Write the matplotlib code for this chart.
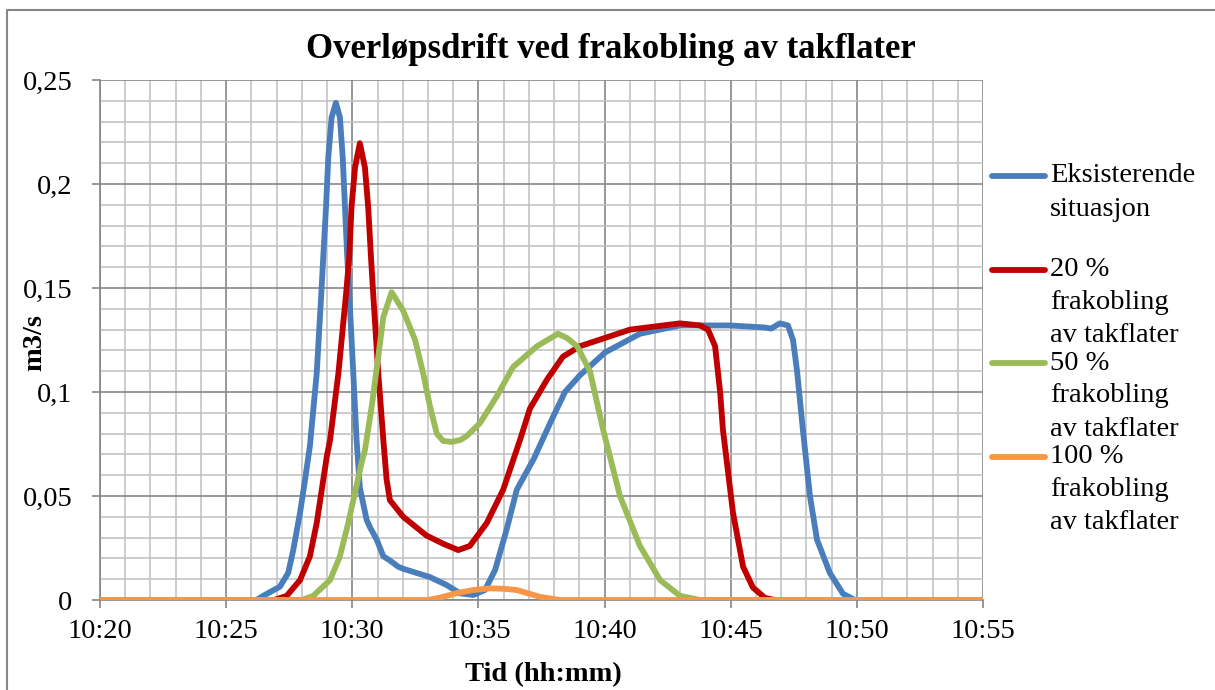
import matplotlib
matplotlib.use("Agg")
import matplotlib.pyplot as plt
from matplotlib.lines import Line2D
from matplotlib.ticker import MultipleLocator, FuncFormatter

plt.rcParams['font.family'] = ['Liberation Serif', 'DejaVu Serif']

# minutes after 10:00, flow in m3/s
blue_t = [20.0, 26.2, 26.47, 27.13, 27.46, 27.66, 27.93, 28.13, 28.32, 28.59, 28.77,
          28.85, 28.96, 29.05, 29.18, 29.35, 29.51, 29.62, 29.71, 29.80, 29.88, 30.04,
          30.17, 30.30, 30.57, 30.70, 30.97, 31.23, 31.49, 31.82, 32.02, 33.08, 33.74,
          34.27, 34.80, 35.26, 35.66, 36.12, 36.52, 37.2, 37.84, 38.43, 39.02, 40.02,
          41.4, 42.99, 44.97, 46.36, 46.6, 46.95, 47.27, 47.47, 47.63, 47.86, 48.14,
          48.42, 48.93, 49.45, 49.92, 55.0]
blue_q = [0, 0, 0.002, 0.0064, 0.013, 0.024, 0.042, 0.058, 0.074, 0.109, 0.147,
          0.165, 0.189, 0.213, 0.232, 0.239, 0.232, 0.213, 0.189, 0.165, 0.147, 0.109,
          0.077, 0.054, 0.0385, 0.035, 0.029, 0.021, 0.019, 0.016, 0.015, 0.011, 0.0072,
          0.0032, 0.0024, 0.0048, 0.0144, 0.034, 0.053, 0.068, 0.085, 0.1, 0.108, 0.119,
          0.128, 0.132, 0.132, 0.131, 0.1305, 0.133, 0.132, 0.125, 0.11, 0.082, 0.05,
          0.029, 0.013, 0.003, 0, 0]

red_t = [20.0, 26.9, 27.40, 27.93, 28.32, 28.59, 28.79, 28.99, 29.12, 29.45, 29.76,
         29.88, 29.97, 30.11, 30.30, 30.50, 30.63, 30.74, 30.83, 31.03, 31.23, 31.36,
         31.49, 32.02, 32.94, 33.61, 34.20, 34.66, 35.33, 35.98, 36.65, 37.04, 37.72,
         38.35, 39.02, 40.02, 41.01, 42.99, 43.78, 44.1, 44.38, 44.58, 44.69, 45.09,
         45.49, 45.88, 46.36, 46.75, 55.0]
red_q = [0, 0, 0.002, 0.0096, 0.021, 0.037, 0.053, 0.069, 0.077, 0.109, 0.148,
         0.165, 0.189, 0.208, 0.2196, 0.208, 0.189, 0.165, 0.147, 0.109, 0.077, 0.058,
         0.048, 0.040, 0.031, 0.027, 0.024, 0.026, 0.037, 0.053, 0.077, 0.092, 0.106,
         0.117, 0.122, 0.126, 0.13, 0.133, 0.132, 0.13, 0.122, 0.1, 0.082, 0.042,
         0.016, 0.006, 0.001, 0, 0]

green_t = [20.0, 28.0, 28.45, 29.12, 29.51, 29.84, 30.15, 30.37, 30.50, 30.77, 31.03,
           31.23, 31.56, 32.02, 32.49, 32.81, 33.08, 33.35, 33.6, 33.94, 34.3, 34.55,
           35.06, 35.73, 36.37, 37.32, 38.15, 38.51, 38.91, 39.42, 39.94, 40.61, 41.4,
           42.2, 42.99, 43.78, 55.0]
green_q = [0, 0, 0.002, 0.0096, 0.021, 0.037, 0.054, 0.066, 0.072, 0.093, 0.117,
           0.136, 0.148, 0.139, 0.125, 0.109, 0.093, 0.080, 0.0765, 0.076, 0.077, 0.079,
           0.085, 0.098, 0.112, 0.122, 0.128, 0.126, 0.122, 0.11, 0.082, 0.05, 0.026,
           0.0096, 0.002, 0, 0]

orange_t = [20.0, 33.0, 33.5, 34.14, 34.8, 35.46, 36.0, 36.52, 37.44, 38.23, 55.0]
orange_q = [0, 0, 0.0012, 0.0033, 0.0048, 0.0056, 0.0054, 0.0048, 0.0015, 0, 0]

series = [
    (blue_t, blue_q, '#4A7EBB', 'Eksisterende\nsituasjon'),
    (red_t, red_q, '#C00000', '20 %\nfrakobling\nav takflater'),
    (green_t, green_q, '#9BBB59', '50 %\nfrakobling\nav takflater'),
    (orange_t, orange_q, '#F79646', '100 %\nfrakobling\nav takflater'),
]

W, H = 1215, 690
fig = plt.figure(figsize=(W / 100, H / 100), dpi=100)
ax = fig.add_axes([100 / W, 1 - 600 / H, 883 / W, 520 / H])

for t, q, c, lab in series:
    ax.plot(t, q, color=c, lw=4.2, solid_capstyle='round', solid_joinstyle='round', zorder=3)

ax.set_xlim(20, 55)
ax.set_ylim(0, 0.25)
ax.xaxis.set_major_locator(MultipleLocator(5))
ax.xaxis.set_minor_locator(MultipleLocator(1))
ax.yaxis.set_major_locator(MultipleLocator(0.05))
ax.yaxis.set_minor_locator(MultipleLocator(0.01))
ax.xaxis.set_major_formatter(FuncFormatter(lambda v, p: "10:%02d" % int(round(v))))
ax.yaxis.set_major_formatter(FuncFormatter(lambda v, p: ("%g" % round(v, 2)).replace('.', ',')))

ax.grid(which='minor', color='#BFBFBF', lw=1.1)
ax.grid(which='major', color='#868686', lw=1.2)
ax.set_axisbelow(True)
for s in ['top', 'right']:
    ax.spines[s].set_visible(False)
for s in ['left', 'bottom']:
    ax.spines[s].set_color('#868686')
    ax.spines[s].set_linewidth(1.2)
ax.tick_params(which='major', direction='out', length=6, width=1.2, color='#868686',
               labelsize=20.5)
ax.tick_params(axis='y', pad=14)
ax.tick_params(axis='x', pad=8)
ax.tick_params(which='minor', length=0)

fig.text(611 / W, 1 - 50 / H, 'Overløpsdrift ved frakobling av takflater',
         fontsize=25, fontweight='bold', ha='center', va='center')
fig.text(35 / W, 1 - 343 / H, 'm3/s', fontsize=20.5, fontweight='bold',
         rotation=90, ha='center', va='center')
fig.text(543 / W, 1 - 675 / H, 'Tid (hh:mm)', fontsize=20.5, fontweight='bold',
         ha='center', va='center')

# legend drawn by hand to keep Excel's tight spacing
for i, (t, q, c, lab) in enumerate(series):
    yl = 176 + i * 93.5
    fig.add_artist(Line2D([992 / W, 1045 / W], [1 - yl / H, 1 - yl / H], color=c,
                          lw=4.2, solid_capstyle='round'))
    for j, line in enumerate(lab.split('\n')):
        fig.text(1050 / W, 1 - (yl + j * 33) / H, line, fontsize=20.5,
                 ha='left', va='center')

# outer chart border
fig.add_artist(Line2D([7 / W, 7 / W, 1], [0, 1 - 10 / H, 1 - 10 / H],
                      color='#868686', lw=1.5))

fig.savefig('out.png', dpi=100)
